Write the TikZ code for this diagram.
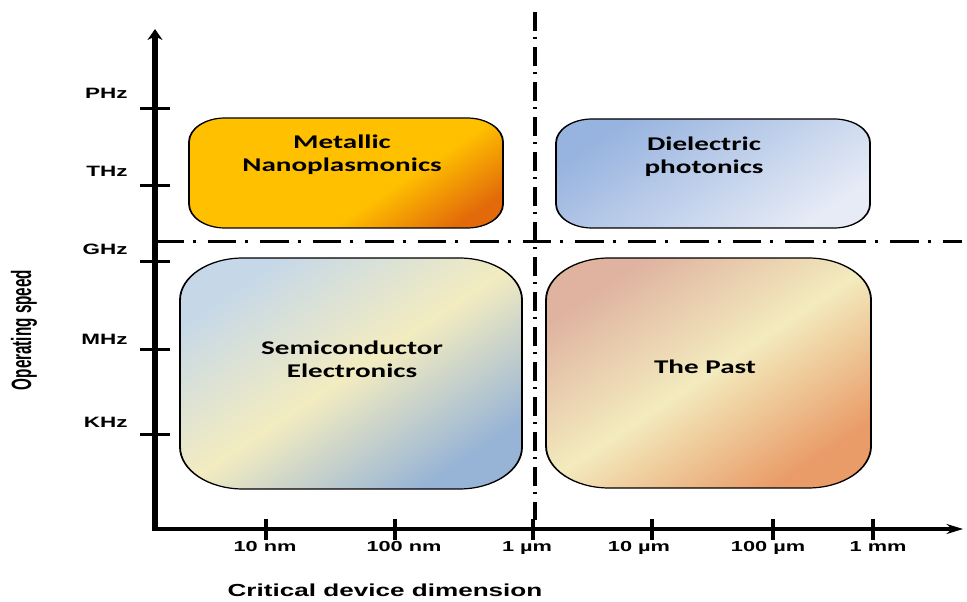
\documentclass[tikz,border=0pt]{standalone}
\usepackage{fontspec}
\usetikzlibrary{arrows.meta}

\newfontfamily\axisfont{Liberation Sans}
\newfontfamily\boxfont{Carlito}
\newfontfamily\narrowfont[FakeStretch=0.82]{Liberation Sans}

\definecolor{goldA}{HTML}{FFC000}
\definecolor{goldB}{HTML}{E26A0A}
\definecolor{dielA}{HTML}{97B3DF}
\definecolor{dielB}{HTML}{E6EBF6}
\definecolor{semiA}{HTML}{C6D8E8}
\definecolor{semiB}{HTML}{F3ECC0}
\definecolor{semiC}{HTML}{97B4D6}
\definecolor{pastA}{HTML}{DFB3A0}
\definecolor{pastB}{HTML}{F3EBBE}
\definecolor{pastC}{HTML}{E99C68}

\pgfdeclarehorizontalshading{metalshade}{100bp}{color(0bp)=(goldA); color(25bp)=(goldA); color(60bp)=(goldA); color(78bp)=(goldB); color(100bp)=(goldB)}
\pgfdeclarehorizontalshading{dielshade}{100bp}{color(0bp)=(dielA); color(25bp)=(dielA); color(75bp)=(dielB); color(100bp)=(dielB)}
\pgfdeclarehorizontalshading{semishade}{100bp}{color(0bp)=(semiA); color(25bp)=(semiA); color(50bp)=(semiB); color(75bp)=(semiC); color(100bp)=(semiC)}
\pgfdeclarehorizontalshading{pastshade}{100bp}{color(0bp)=(pastA); color(25bp)=(pastA); color(50bp)=(pastB); color(75bp)=(pastC); color(100bp)=(pastC)}

\tikzset{
  axis/.style={line width=4pt, line join=miter,
    {Stealth[length=11pt,width=10pt]}-{Stealth[length=11pt,width=10pt]}},
  tick/.style={line width=3pt},
  dashdot/.style={line width=3pt, dash pattern=on 19pt off 6pt on 2pt off 8pt},
  box/.style={draw=black, line width=1.2pt, shading angle=-45},
  ylab/.style={font=\axisfont\bfseries\fontsize{15}{18}\selectfont, anchor=base east, inner sep=0pt},
  xlab/.style={font=\axisfont\bfseries\fontsize{14.5}{17}\selectfont, anchor=base, inner sep=0pt},
  boxtext/.style={font=\boxfont\bfseries\fontsize{19.4}{23}\selectfont, align=center}
}

\begin{document}
\begin{tikzpicture}[x=1pt,y=1pt]
  \useasboundingbox (0,0) rectangle (967,602);
  % the whole figure is widened by one half
  \begin{scope}[x=0.6667pt, transform canvas={xscale=1.5}]
    % quadrant boxes
    \shade[box, shading=metalshade, rounded corners=24pt] (189,484) rectangle (503,374);
    \shade[box, shading=dielshade, rounded corners=24pt] (556,483) rectangle (870,374);
    \shade[box, shading=semishade, rounded corners=42pt] (180,344) rectangle (522,113);
    \shade[box, shading=pastshade, rounded corners=42pt] (546,344) rectangle (871,114);

    \node[boxtext] (metal) at (342,447) {Metallic\\Nanoplasmonics};
    \node[boxtext] (diel) at (704,445) {Dielectric\\photonics};
    \node[boxtext] (semi) at (352,243) {Semiconductor\\Electronics};
    \node[boxtext] (past) at (705,235) {The Past};

    % separating lines
    \coordinate (vtop) at (535,590);
    \coordinate (vbot) at (535,82);
    \coordinate (hleft) at (155,360);
    \coordinate (hright) at (962,360);
    \draw[dashdot] (vtop) -- (vbot);
    \draw[dashdot] (hleft) -- (hright);

    % axes
    \coordinate (origin) at (155,73);
    \coordinate (ytop) at (155,573);
    \coordinate (xend) at (963,73);
    \draw[axis] (ytop) -- (origin) -- (xend);

    \foreach \y in {493,416,340,252,167}
      \draw[tick] (140,\y) -- (170,\y);
    \foreach \x in {266,395,533,652,773,873}
      \draw[tick] (\x,62) -- (\x,83);

    \node[ylab] (phz) at (128,503) {PHz};
    \node[ylab] (thz) at (128,425) {THz};
    \node[ylab] (ghz) at (128,347) {GHz};
    \node[ylab] (mhz) at (128,257) {MHz};
    \node[ylab] (khz) at (128,174) {KHz};

    \node[xlab] (tennm) at (265,50) {10 nm};
    \node[xlab] (hundrednm) at (404,50) {100 nm};
    \node[xlab] (onemu) at (527,50) {1 µm};
    \node[xlab] (tenmu) at (639,50) {10 µm};
    \node[xlab] (hundredmu) at (768,50) {100 µm};
    \node[xlab] (onemm) at (878,50) {1 mm};

    \node[font=\axisfont\bfseries\fontsize{17.4}{20}\selectfont, anchor=base] (xtitle) at (385,5) {Critical device dimension};
    \node[font=\narrowfont\bfseries\fontsize{18.6}{22}\selectfont, rotate=90] (ytitle) at (24,272) {Operating speed};
  \end{scope}
\end{tikzpicture}
\end{document}
